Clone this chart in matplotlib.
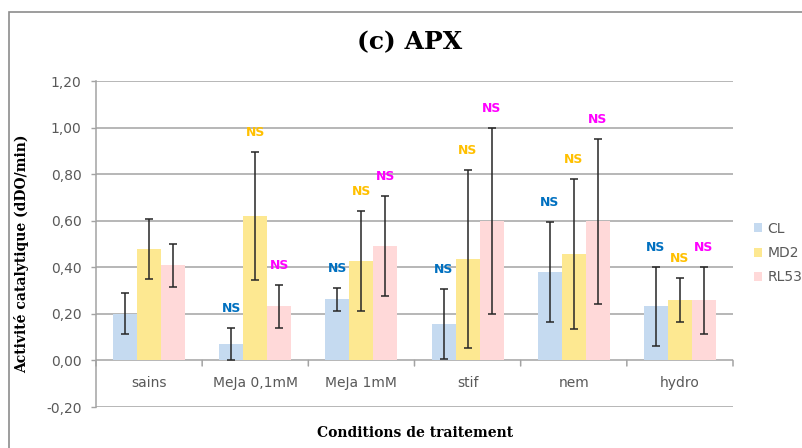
import matplotlib
matplotlib.use("Agg")
import matplotlib.pyplot as plt
from matplotlib.patches import Rectangle
import numpy as np

# Data: APX catalytic activity per treatment and cultivar
categories = ["sains", "MeJa 0,1mM", "MeJa 1mM", "stif", "nem", "hydro"]
series_names = ["CL", "MD2", "RL53"]

cl_values = [0.200, 0.070, 0.263, 0.155, 0.379, 0.233]
cl_errors = [0.088, 0.068, 0.050, 0.150, 0.215, 0.170]
md2_values = [0.478, 0.620, 0.426, 0.435, 0.456, 0.259]
md2_errors = [0.128, 0.276, 0.215, 0.383, 0.322, 0.095]
rl53_values = [0.409, 0.233, 0.491, 0.598, 0.598, 0.259]
rl53_errors = [0.093, 0.093, 0.216, 0.400, 0.355, 0.144]

# "NS" (not significant) annotations per bar
cl_ns = [False, True, True, True, True, True]
md2_ns = [False, True, True, True, True, True]
rl53_ns = [False, True, True, True, True, True]

y_ticks = [-0.20, 0.00, 0.20, 0.40, 0.60, 0.80, 1.00, 1.20]

# Styling
bar_colors = ["#C5DAF0", "#FDE891", "#FFD9D9"]
ns_colors = ["#0070C0", "#FFC000", "#FF00FF"]
grid_color = "#A3A3A3"
text_gray = "#595959"

W, H = 803, 448
fig = plt.figure(figsize=(W / 100, H / 100), dpi=100)
ax = fig.add_axes([96 / W, 1 - 407 / H, (733 - 96) / W, (407 - 81) / H])

values = [cl_values, md2_values, rl53_values]
errors = [cl_errors, md2_errors, rl53_errors]
ns_flags = [cl_ns, md2_ns, rl53_ns]

n = len(categories)
x = np.arange(n) + 0.5
bw = 24 / 106

for k in range(3):
    xs = x + (k - 1) * bw
    ax.bar(xs, values[k], width=bw, color=bar_colors[k], label=series_names[k],
           zorder=2, linewidth=0)
    ax.errorbar(xs, values[k], yerr=errors[k], fmt="none", ecolor="#262626",
                elinewidth=1.1, capsize=3, capthick=1.1, zorder=3)
    for xi, v, e, flag in zip(xs, values[k], errors[k], ns_flags[k]):
        if flag:
            ax.annotate("NS", xy=(xi, v + e), xytext=(0, 14), textcoords="offset points",
                        ha="center", va="center", fontsize=9, fontweight="bold",
                        color=ns_colors[k], zorder=4)

ax.set_xlim(0, n)
ax.set_ylim(-0.2, 1.2)

# Horizontal gridlines
for yt in y_ticks:
    ax.axhline(yt, color=grid_color, lw=1.1, zorder=1)

ax.set_yticks(y_ticks)
ax.set_yticklabels([f"{t:.2f}".replace(".", ",") for t in y_ticks])
ax.tick_params(axis="y", direction="out", length=3.5, width=1, color=grid_color,
               labelcolor=text_gray, labelsize=10, pad=7)
ax.set_xticks([])

for side in ["top", "right", "bottom"]:
    ax.spines[side].set_visible(False)
ax.spines["left"].set_color(grid_color)
ax.spines["left"].set_linewidth(1.1)

# Category axis along the zero line, with boundary ticks below it
for b in range(n + 1):
    ax.annotate("", xy=(b, 0), xytext=(0, -4), textcoords="offset points",
                arrowprops=dict(arrowstyle="-", color=grid_color, lw=1.1,
                                shrinkA=0, shrinkB=0), annotation_clip=False)
for xi, name in zip(x, categories):
    ax.annotate(name, xy=(xi, 0), xytext=(0, -16), textcoords="offset points",
                ha="center", va="center", fontsize=10, color=text_gray)

# Legend
leg = ax.legend(loc="center left", bbox_to_anchor=(748 / W, 1 - 253 / H),
                bbox_transform=fig.transFigure, frameon=False, fontsize=10,
                handlelength=0.6, handleheight=0.6, handletextpad=0.4,
                labelspacing=0.75, borderaxespad=0)
for t in leg.get_texts():
    t.set_color(text_gray)

# Titles
fig.text(410 / W, 1 - 42 / H, "(c) APX", ha="center", va="center",
         fontsize=18, fontweight="bold", family="DejaVu Serif")
fig.text(415 / W, 1 - 433 / H, "Conditions de traitement", ha="center", va="center",
         fontsize=10, fontweight="bold", family="DejaVu Serif")
fig.text(21.5 / W, 1 - 254 / H, "Activité catalytique (dDO/min)", ha="center",
         va="center", rotation=90, fontsize=10, fontweight="bold", family="DejaVu Serif")

# Chart-area border
fig.patches.append(Rectangle((8.5 / W, -0.1), 1.2, 1.1 - 12 / H, transform=fig.transFigure,
                             fill=False, edgecolor="#8C8C8C", lw=1.2))

fig.savefig("out.png", dpi=100)
